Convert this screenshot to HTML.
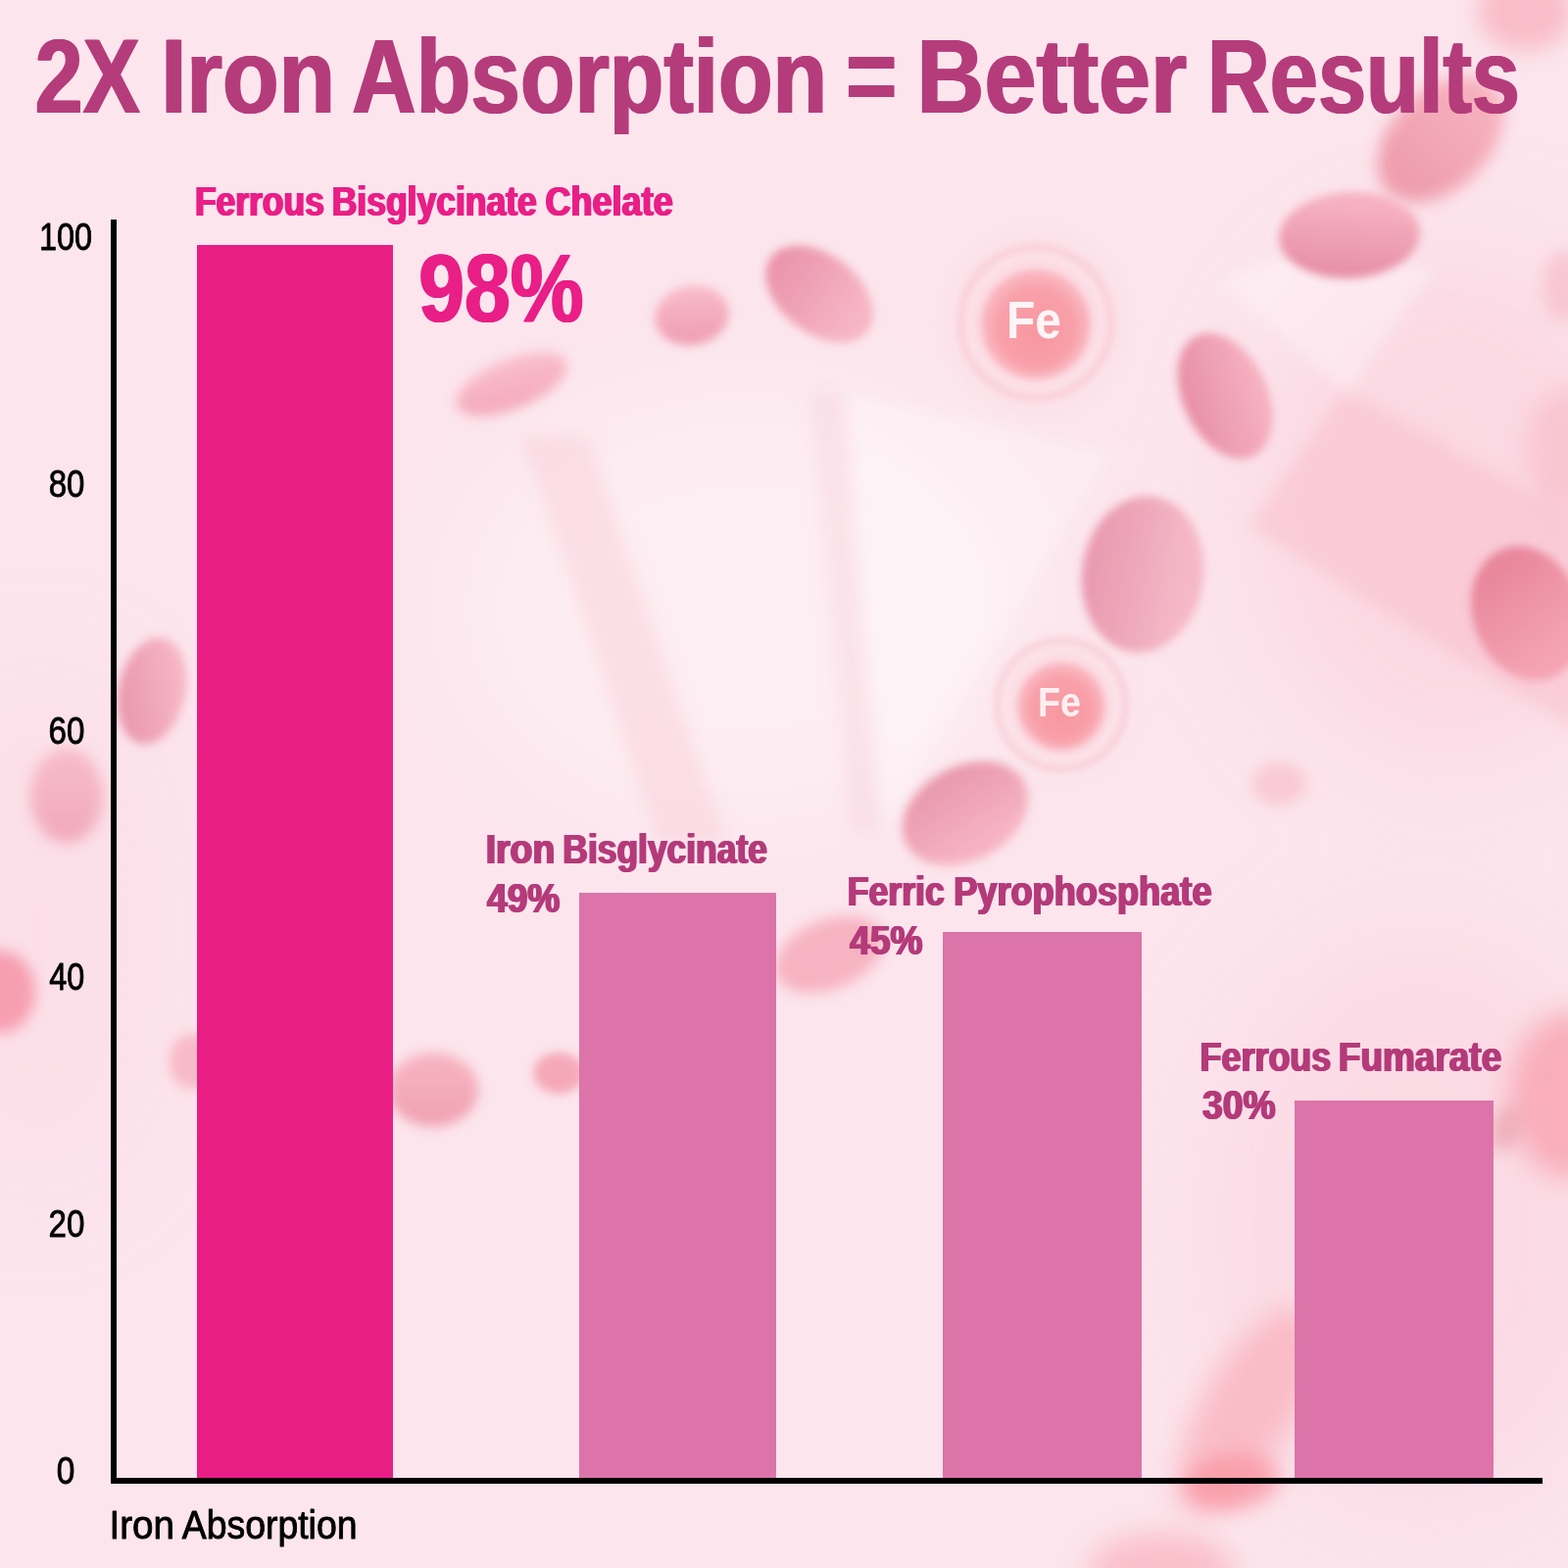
<!DOCTYPE html>
<html lang="en"><head><meta charset="utf-8"><title>2X Iron Absorption = Better Results</title>
<style>
html,body{margin:0;padding:0}
body{width:1600px;height:1600px;position:relative;overflow:hidden;background:#fde8ef;font-family:"Liberation Sans",sans-serif}
#bg{position:absolute;left:0;top:0;width:1600px;height:1600px;display:block}
.bar{position:absolute}
.ax{position:absolute;background:#000}
#tx{position:absolute;left:0;top:0;width:1600px;height:1600px;display:block}
</style></head>
<body>
<svg id="bg" width="1600" height="1600" viewBox="0 0 1600 1600">
<defs>
<filter id="b2" x="-60%" y="-60%" width="220%" height="220%"><feGaussianBlur stdDeviation="2"/></filter>
<filter id="b3" x="-60%" y="-60%" width="220%" height="220%"><feGaussianBlur stdDeviation="3"/></filter>
<filter id="b4" x="-60%" y="-60%" width="220%" height="220%"><feGaussianBlur stdDeviation="4"/></filter>
<filter id="b5" x="-60%" y="-60%" width="220%" height="220%"><feGaussianBlur stdDeviation="5"/></filter>
<filter id="b6" x="-60%" y="-60%" width="220%" height="220%"><feGaussianBlur stdDeviation="6"/></filter>
<filter id="b7" x="-60%" y="-60%" width="220%" height="220%"><feGaussianBlur stdDeviation="7"/></filter>
<filter id="b8" x="-60%" y="-60%" width="220%" height="220%"><feGaussianBlur stdDeviation="8"/></filter>
<filter id="b10" x="-60%" y="-60%" width="220%" height="220%"><feGaussianBlur stdDeviation="10"/></filter>
<filter id="b11" x="-60%" y="-60%" width="220%" height="220%"><feGaussianBlur stdDeviation="11"/></filter>
<filter id="b12" x="-60%" y="-60%" width="220%" height="220%"><feGaussianBlur stdDeviation="12"/></filter>
<filter id="b14" x="-60%" y="-60%" width="220%" height="220%"><feGaussianBlur stdDeviation="14"/></filter>
<filter id="b20" x="-60%" y="-60%" width="220%" height="220%"><feGaussianBlur stdDeviation="20"/></filter>
<filter id="b40" x="-60%" y="-60%" width="220%" height="220%"><feGaussianBlur stdDeviation="40"/></filter>
<filter id="b60" x="-60%" y="-60%" width="220%" height="220%"><feGaussianBlur stdDeviation="60"/></filter>
<radialGradient id="fe" cx="50%" cy="50%" r="50%" fx="52%" fy="62%"><stop offset="0" stop-color="#f8979f"/><stop offset="0.7" stop-color="#f8a0aa"/><stop offset="1" stop-color="#fabcc5"/></radialGradient>
<linearGradient id="g1" x1="1.000" y1="0.500" x2="0.000" y2="0.500"><stop offset="0.15" stop-color="#f6aebb"/><stop offset="0.9" stop-color="#ee9aaa"/></linearGradient>
<linearGradient id="g2" x1="0.612" y1="0.013" x2="0.388" y2="0.987"><stop offset="0.15" stop-color="#f6b0bf"/><stop offset="0.9" stop-color="#e78fa6"/></linearGradient>
<linearGradient id="g3" x1="0.983" y1="0.629" x2="0.017" y2="0.371"><stop offset="0.15" stop-color="#f5adbd"/><stop offset="0.9" stop-color="#e88fa6"/></linearGradient>
<linearGradient id="g6" x1="0.629" y1="0.983" x2="0.371" y2="0.017"><stop offset="0.15" stop-color="#f4a3b2"/><stop offset="0.9" stop-color="#e8879c"/></linearGradient>
<linearGradient id="g7" x1="0.587" y1="0.008" x2="0.413" y2="0.992"><stop offset="0.15" stop-color="#f7b5c4"/><stop offset="0.9" stop-color="#ef9bb0"/></linearGradient>
<linearGradient id="g8" x1="0.999" y1="0.474" x2="0.001" y2="0.526"><stop offset="0.15" stop-color="#f6b3c2"/><stop offset="0.9" stop-color="#ea93aa"/></linearGradient>
<linearGradient id="g9" x1="0.687" y1="0.036" x2="0.313" y2="0.964"><stop offset="0.15" stop-color="#f8b6c5"/><stop offset="0.9" stop-color="#f3a3b5"/></linearGradient>
<linearGradient id="g10" x1="1.000" y1="0.517" x2="0.000" y2="0.483"><stop offset="0.15" stop-color="#f5b6c5"/><stop offset="0.9" stop-color="#e897ad"/></linearGradient>
<linearGradient id="g11" x1="0.561" y1="0.996" x2="0.439" y2="0.004"><stop offset="0.15" stop-color="#f6b1c0"/><stop offset="0.9" stop-color="#e997aa"/></linearGradient>
<linearGradient id="g14" x1="0.924" y1="0.235" x2="0.076" y2="0.765"><stop offset="0.15" stop-color="#f5b1c1"/><stop offset="0.9" stop-color="#e994ab"/></linearGradient>
<linearGradient id="g15" x1="0.500" y1="0.000" x2="0.500" y2="1.000"><stop offset="0.15" stop-color="#f6b6c5"/><stop offset="0.9" stop-color="#f0a6b8"/></linearGradient>
<linearGradient id="g18" x1="0.500" y1="0.000" x2="0.500" y2="1.000"><stop offset="0.15" stop-color="#f6afbd"/><stop offset="0.9" stop-color="#f09fb0"/></linearGradient>
</defs>
<rect width="1600" height="1600" fill="#fce5ed"/>
<g filter="url(#b60)">
<ellipse cx="760" cy="620" rx="300" ry="230" fill="#ffffff" opacity="0.35"/>
<ellipse cx="1480" cy="520" rx="200" ry="260" fill="#f9c3d0" opacity="0.35"/>
<ellipse cx="1450" cy="1250" rx="220" ry="300" fill="#f9c3d0" opacity="0.30"/>
<ellipse cx="40" cy="950" rx="120" ry="260" fill="#f9c3d0" opacity="0.18"/>
</g>
<g filter="url(#b8)">
<polygon points="532,445 600,445 742,860 672,860" fill="#f7bccb" opacity="0.30"/>
<polygon points="862,400 1135,462 900,850" fill="#ffffff" opacity="0.30"/>
<polygon points="826,400 862,400 900,850 868,850" fill="#f7bccb" opacity="0.22"/>
<polygon points="1245,288 1300,262 1465,272 1375,402" fill="#ffffff" opacity="0.32"/>
<polygon points="1372,398 1620,535 1620,750 1535,700 1276,537" fill="#f8b9c8" opacity="0.48"/>
</g>
<ellipse cx="1556" cy="12" rx="48" ry="40" transform="rotate(0 1556 12)" fill="#f8b0bc" opacity="0.75" filter="url(#b11)"/>
<ellipse cx="1470" cy="142" rx="76" ry="50" transform="rotate(-45 1470 142)" fill="url(#g1)" opacity="0.96" filter="url(#b8)"/>
<ellipse cx="1377" cy="240" rx="72" ry="44" transform="rotate(-3 1377 240)" fill="url(#g2)" opacity="0.97" filter="url(#b4)"/>
<ellipse cx="1250" cy="404" rx="43" ry="68" transform="rotate(-25 1250 404)" fill="url(#g3)" opacity="0.97" filter="url(#b4)"/>
<ellipse cx="1596" cy="292" rx="22" ry="36" transform="rotate(0 1596 292)" fill="#f6b6c4" opacity="0.6" filter="url(#b8)"/>
<ellipse cx="1600" cy="460" rx="42" ry="64" transform="rotate(0 1600 460)" fill="#f8c0cc" opacity="0.8" filter="url(#b12)"/>
<ellipse cx="1558" cy="626" rx="55" ry="70" transform="rotate(-20 1558 626)" fill="url(#g6)" opacity="1.0" filter="url(#b4)"/>
<ellipse cx="706" cy="322" rx="38" ry="30" transform="rotate(-10 706 322)" fill="url(#g7)" opacity="0.94" filter="url(#b5)"/>
<ellipse cx="836" cy="300" rx="62" ry="40" transform="rotate(38 836 300)" fill="url(#g8)" opacity="0.96" filter="url(#b4)"/>
<ellipse cx="522" cy="392" rx="60" ry="25" transform="rotate(-22 522 392)" fill="url(#g9)" opacity="0.88" filter="url(#b6)"/>
<ellipse cx="1166" cy="586" rx="62" ry="80" transform="rotate(8 1166 586)" fill="url(#g10)" opacity="0.95" filter="url(#b4)"/>
<ellipse cx="985" cy="830" rx="68" ry="48" transform="rotate(-28 985 830)" fill="url(#g11)" opacity="0.96" filter="url(#b5)"/>
<ellipse cx="846" cy="974" rx="58" ry="35" transform="rotate(-22 846 974)" fill="#f6adbc" opacity="0.9" filter="url(#b7)"/>
<ellipse cx="1305" cy="800" rx="28" ry="22" transform="rotate(0 1305 800)" fill="#f8c0cc" opacity="0.7" filter="url(#b7)"/>
<ellipse cx="155" cy="705" rx="34" ry="55" transform="rotate(12 155 705)" fill="url(#g14)" opacity="0.94" filter="url(#b5)"/>
<ellipse cx="68" cy="812" rx="37" ry="48" transform="rotate(0 68 812)" fill="url(#g15)" opacity="0.92" filter="url(#b7)"/>
<ellipse cx="0" cy="1012" rx="36" ry="42" transform="rotate(0 0 1012)" fill="#f69fb0" opacity="1.0" filter="url(#b7)"/>
<ellipse cx="195" cy="1083" rx="22" ry="28" transform="rotate(0 195 1083)" fill="#f7b5c2" opacity="0.9" filter="url(#b6)"/>
<ellipse cx="442" cy="1112" rx="46" ry="38" transform="rotate(0 442 1112)" fill="url(#g18)" opacity="0.94" filter="url(#b6)"/>
<ellipse cx="570" cy="1095" rx="26" ry="21" transform="rotate(0 570 1095)" fill="#f5a6b6" opacity="0.95" filter="url(#b5)"/>
<ellipse cx="1272" cy="1440" rx="46" ry="118" transform="rotate(30 1272 1440)" fill="#f9aeb9" opacity="0.72" filter="url(#b14)"/>
<ellipse cx="1258" cy="1512" rx="48" ry="28" transform="rotate(-8 1258 1512)" fill="#f8929f" opacity="0.72" filter="url(#b10)"/>
<ellipse cx="1185" cy="1604" rx="75" ry="40" transform="rotate(0 1185 1604)" fill="#fab4bf" opacity="0.75" filter="url(#b14)"/>
<ellipse cx="1602" cy="1118" rx="62" ry="84" transform="rotate(0 1602 1118)" fill="#f8a4b0" opacity="0.82" filter="url(#b14)"/>
<ellipse cx="1536" cy="1152" rx="16" ry="24" transform="rotate(20 1536 1152)" fill="#e59aa6" opacity="0.55" filter="url(#b8)"/>
<circle cx="1057" cy="329" r="88" fill="#fbd0da" opacity="0.5" filter="url(#b8)"/>
<g fill="none" filter="url(#b3)">
<circle cx="1057" cy="329" r="67" stroke="#ffffff" stroke-width="4" opacity="0.32"/>
<circle cx="1057" cy="329" r="77" stroke="#f6b3c3" stroke-width="6" opacity="0.28"/>
<circle cx="1057" cy="329" r="86" stroke="#ffffff" stroke-width="3" opacity="0.25"/>
</g>
<circle cx="1057" cy="331" r="56" fill="url(#fe)" filter="url(#b3)"/>
<circle cx="1083" cy="719" r="70" fill="#fbd0da" opacity="0.5" filter="url(#b8)"/>
<g fill="none" filter="url(#b3)">
<circle cx="1083" cy="719" r="56" stroke="#ffffff" stroke-width="4" opacity="0.32"/>
<circle cx="1083" cy="719" r="66" stroke="#f6b3c3" stroke-width="6" opacity="0.28"/>
<circle cx="1083" cy="719" r="75" stroke="#ffffff" stroke-width="3" opacity="0.25"/>
</g>
<circle cx="1083" cy="721" r="45" fill="url(#fe)" filter="url(#b3)"/>
<g font-family="'Liberation Sans', sans-serif" font-weight="700" fill="#fff" text-anchor="middle">
<text x="1055" y="345" font-size="54" opacity="0.9" textLength="56" lengthAdjust="spacingAndGlyphs">Fe</text>
<text x="1081" y="730.5" font-size="42" opacity="0.85" textLength="44" lengthAdjust="spacingAndGlyphs">Fe</text>
</g>
</svg>

<div class="bar" style="left:201px;top:250px;width:200px;height:1259px;background:#e91e85"></div>
<div class="bar" style="left:591px;top:911px;width:201px;height:598px;background:#dc74a9"></div>
<div class="bar" style="left:962px;top:951px;width:203px;height:558px;background:#dc74a9"></div>
<div class="bar" style="left:1321px;top:1123px;width:203px;height:386px;background:#dc74a9"></div>
<div class="ax" style="left:113px;top:224px;width:6px;height:1290px"></div>
<div class="ax" style="left:113px;top:1508px;width:1461px;height:6px"></div>

<svg id="tx" width="1600" height="1600" viewBox="0 0 1600 1600" font-family="'Liberation Sans', sans-serif">
<defs>
<filter id="eT" x="-2%" y="-10%" width="104%" height="120%" color-interpolation-filters="sRGB"><feOffset dx="1.3" in="SourceGraphic" result="a"/><feOffset dx="-1.3" in="SourceGraphic" result="b"/><feMerge><feMergeNode in="a"/><feMergeNode in="b"/><feMergeNode in="SourceGraphic"/></feMerge></filter>
<filter id="eB" x="-2%" y="-10%" width="104%" height="120%" color-interpolation-filters="sRGB"><feOffset dx="1.1" in="SourceGraphic" result="a"/><feOffset dx="-1.1" in="SourceGraphic" result="b"/><feMerge><feMergeNode in="a"/><feMergeNode in="b"/><feMergeNode in="SourceGraphic"/></feMerge></filter>
<filter id="eL" x="-2%" y="-10%" width="104%" height="120%" color-interpolation-filters="sRGB"><feOffset dx="0.65" in="SourceGraphic" result="a"/><feOffset dx="-0.65" in="SourceGraphic" result="b"/><feMerge><feMergeNode in="a"/><feMergeNode in="b"/><feMergeNode in="SourceGraphic"/></feMerge></filter>
</defs>
<g filter="url(#eT)">
<text transform="translate(35.73 115.20) scale(0.8105 1)" font-size="108.12" font-weight="700" fill="#b53c7b">2X</text>
<text transform="translate(164.17 115.20) scale(0.8719 1)" font-size="108.12" font-weight="700" fill="#b53c7b">Iron</text>
<text transform="translate(359.03 115.20) scale(0.8415 1)" font-size="108.12" font-weight="700" fill="#b53c7b">Absorption</text>
<text transform="translate(863.24 113.60) scale(0.8224 1)" font-size="108.12" font-weight="700" fill="#b53c7b">=</text>
<text transform="translate(935.60 115.20) scale(0.8818 1)" font-size="108.12" font-weight="700" fill="#b53c7b">Better</text>
<text transform="translate(1232.06 115.20) scale(0.8165 1)" font-size="108.12" font-weight="700" fill="#b53c7b">Results</text>
</g>
<g filter="url(#eL)">
<text transform="translate(198.95 219.70) scale(0.8317 1)" font-size="42.61" font-weight="700" fill="#e91e86">Ferrous</text>
<text transform="translate(338.64 219.70) scale(0.8334 1)" font-size="42.61" font-weight="700" fill="#e91e86">Bisglycinate</text>
<text transform="translate(556.51 219.70) scale(0.8460 1)" font-size="42.61" font-weight="700" fill="#e91e86">Chelate</text>
</g>
<g filter="url(#eB)">
<text transform="translate(427.16 328.00) scale(0.8584 1)" font-size="98.00" font-weight="700" fill="#e91e86">98%</text>
</g>
<g filter="url(#eL)">
<text transform="translate(495.72 881.40) scale(0.8761 1)" font-size="42.61" font-weight="700" fill="#b43a7a">Iron</text>
<text transform="translate(574.35 881.40) scale(0.8310 1)" font-size="42.61" font-weight="700" fill="#b43a7a">Bisglycinate</text>
<text transform="translate(497.09 931.00) scale(0.8801 1)" font-size="42.14" font-weight="700" fill="#b43a7a">49%</text>
<text transform="translate(864.73 924.30) scale(0.8402 1)" font-size="42.46" font-weight="700" fill="#b43a7a">Ferric</text>
<text transform="translate(973.20 924.30) scale(0.8521 1)" font-size="42.46" font-weight="700" fill="#b43a7a">Pyrophosphate</text>
<text transform="translate(867.29 974.30) scale(0.8849 1)" font-size="41.86" font-weight="700" fill="#b43a7a">45%</text>
<text transform="translate(1224.62 1092.50) scale(0.8449 1)" font-size="42.46" font-weight="700" fill="#b43a7a">Ferrous</text>
<text transform="translate(1365.85 1092.50) scale(0.8708 1)" font-size="42.46" font-weight="700" fill="#b43a7a">Fumarate</text>
<text transform="translate(1227.12 1142.30) scale(0.8882 1)" font-size="41.86" font-weight="700" fill="#b43a7a">30%</text>
</g>
<g>
<text transform="translate(39.92 255.00) scale(0.8244 1)" font-size="39.38" font-weight="400" fill="#000" stroke="#000" stroke-width="0.87" stroke-linejoin="round">100</text>
<text transform="translate(49.68 507.00) scale(0.8528 1)" font-size="38.68" font-weight="400" fill="#000" stroke="#000" stroke-width="0.85" stroke-linejoin="round">80</text>
<text transform="translate(49.51 759.00) scale(0.8416 1)" font-size="39.38" font-weight="400" fill="#000" stroke="#000" stroke-width="0.87" stroke-linejoin="round">60</text>
<text transform="translate(50.35 1010.00) scale(0.8369 1)" font-size="38.68" font-weight="400" fill="#000" stroke="#000" stroke-width="0.85" stroke-linejoin="round">40</text>
<text transform="translate(49.51 1262.00) scale(0.8569 1)" font-size="38.68" font-weight="400" fill="#000" stroke="#000" stroke-width="0.85" stroke-linejoin="round">20</text>
<text transform="translate(57.63 1514.00) scale(0.8481 1)" font-size="39.38" font-weight="400" fill="#000" stroke="#000" stroke-width="0.87" stroke-linejoin="round">0</text>
<text transform="translate(111.45 1569.50) scale(0.9338 1)" font-size="41.37" font-weight="400" fill="#000" stroke="#000" stroke-width="0.91" stroke-linejoin="round">Iron</text>
<text transform="translate(185.72 1569.50) scale(0.9042 1)" font-size="41.37" font-weight="400" fill="#000" stroke="#000" stroke-width="0.91" stroke-linejoin="round">Absorption</text>
</g>
</svg>
</body></html>
